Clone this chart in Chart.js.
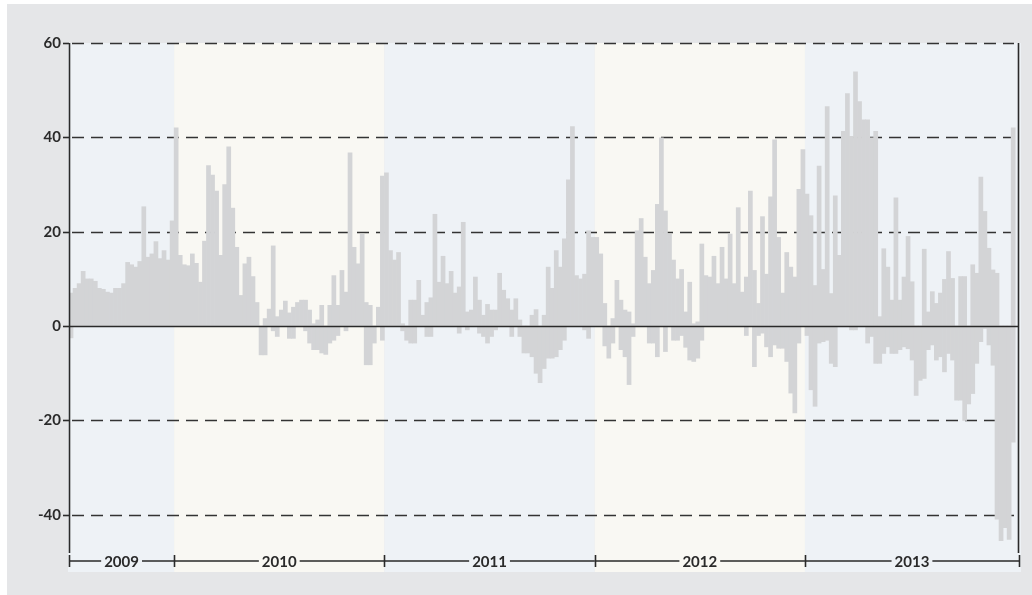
<!DOCTYPE html>
<html>
<head>
<meta charset="utf-8">
<script src="https://cdn.jsdelivr.net/npm/chart.js@4/dist/chart.umd.min.js"></script>
<style>
  html, body { margin: 0; padding: 0; background: #fff; }
  canvas { display: block; }
</style>
</head>
<body>
<canvas id="myChart" width="1032" height="595"></canvas>
<script>
// weekly values, positive and negative parts
const years = [2009, 2010, 2011, 2012, 2013];
const yTicks = [60, 40, 20, 0, -20, -40];

const up2009 = [7, 8, 9, 11.6, 10, 10, 9.5, 8, 7.8, 7.2, 7, 8, 8, 9, 13.5, 13, 12.5, 13.7, 25.3, 14.6, 15.3, 17.9, 14.3, 16, 14, 22.3];
const down2009 = [-2.5, 0, 0, 0, 0, 0, 0, 0, 0, 0, 0, 0, 0, 0, 0, 0, 0, 0, 0, 0, 0, 0, 0, 0, 0, 0];

const up2010 = [42, 15, 13, 12.8, 15.3, 13.3, 9.3, 18, 34, 32, 28.6, 15, 30, 38, 25, 16.7, 6.5, 13.2, 14.6, 10.5,
  5, 0, 1.6, 3.6, 17, 2, 3.4, 5.3, 2.8, 4, 5, 5.5, 5.5, 3.4, 0.5, 1.3, 4.4, 0, 4.4, 10.7,
  4.4, 11.8, 7.2, 36.7, 16.7, 13.2, 19.5, 5, 4.4, 0, 4, 31.8];
const down2010 = [0, 0, 0, 0, 0, 0, 0, 0, 0, 0, 0, 0, 0, 0, 0, 0, 0, 0, 0, 0,
  0, -6.1, -6.1, 0, -1, -2.2, 0, 0, -2.6, -2.6, 0, 0, -1, -3.6, -5, -5, -5.7, -6, -3.6, -3,
  -2, 0, -1, 0, 0, 0, 0, -8.2, -8.2, -3.6, 0, -3];

const up2011 = [32.5, 16, 14, 15.6, 0.5, 0, 5.5, 5.5, 9.7, 2.3, 5, 6, 23.7, 9.3, 14.8, 9, 11.6, 7, 8.3, 22,
  3, 3.4, 10.4, 5.5, 2.3, 4.6, 3.4, 3.4, 11.2, 7.6, 5.8, 3.4, 5.8, 1.3, 0, 0, 2.3, 3.5, 0, 2.3,
  12.5, 8, 16, 12.5, 18.5, 31, 42.3, 10.7, 10, 11, 20.2, 18.8];
const down2011 = [0, 0, 0, 0, -1, -3, -3.6, -3.6, 0, 0, -2.2, -2.2, 0, 0, 0, 0, 0, 0, -1.5, 0,
  -0.8, 0, 0, -1.5, -2.2, -3.6, -2.2, -0.8, 0, 0, 0, -2.2, 0, -2.2, -5.7, -5.7, -6.5, -10, -12, -9,
  -6.8, -6.8, -6.5, -5, -3, 0, 0, 0, 0, -0.8, -2.6, 0];

const up2012 = [18.8, 15.3, 4.8, 0, 1.6, 9.7, 5.5, 3.4, 3, 0.5, 20.2, 22.8, 14.6, 9, 11.8, 25.8, 39.9, 24.4, 19.5, 14,
  10, 12, 3, 9.3, 0.5, 0.9, 17.4, 10.7, 10.4, 14.8, 9, 16.7, 10, 19.5, 9, 25.1, 7.2, 10.4, 28.6, 11.8,
  4.8, 23.2, 11, 27.4, 39.5, 18.8, 7, 15.6, 12.5, 10.4, 29, 37.4];
const down2012 = [0, 0, -4.2, -6.8, -3.6, 0, -5, -6.5, -12.4, -2.2, 0, 0, 0, -3.6, -3.6, -6.5, 0, -5.4, 0, -3,
  -3, -2, -4.5, -7.2, -7.5, -6.8, -3, 0, 0, 0, 0, 0, 0, 0, 0, 0, 0, -2, 0, -8.6,
  -2, -1.5, -4.4, -6.5, -4, -4.7, -4.7, -7.5, -14.2, -18.4, -3.6, 0];

const up2013 = [28, 23.4, 8.6, 33.9, 12, 46.5, 6.9, 27.6, 15, 41.3, 49.3, 40.2, 53.9, 47.6, 43.7, 43.7, 39.9, 41.3, 2, 16.4,
  12.5, 5.5, 27.2, 5.5, 10.4, 19, 9.4, 0, 0, 16.3, 3, 7.3, 4.8, 7, 9.9, 15.8, 10.1, 0, 10.5, 10.5,
  0, 13, 11.2, 31.6, 24.3, 16.5, 11.9, 11.2, 0, 0, 0, 42];
const down2013 = [-2, -13.5, -17, -3.6, -3.3, -3, -7.9, -8.6, 0, 0, 0, -0.8, -0.8, 0, 0, -3.6, -2.2, -7.9, -7.9, -5.8,
  -4.4, -5.8, -5.8, -5, -4.4, -4.8, -7.2, -14.7, -11.5, -11.1, -5, -4, -7.2, -6.5, -9.7, -5.8, -7.2, -15.7, -15.7, -20,
  -16.5, -14.3, -7.9, -3.3, -0.5, -4, -8.3, -40.9, -45.5, -42.7, -45.2, -24.6];

const upByYear = [up2009, up2010, up2011, up2012, up2013];
const downByYear = [down2009, down2010, down2011, down2012, down2013];

// turn the week lists into {x, y} points, x in fractional years
function toPoints(lists) {
  const pts = [];
  lists.forEach((arr, yi) => {
    const offset = 52 - arr.length;
    arr.forEach((v, k) => {
      pts.push({ x: years[yi] + (offset + k + 0.5) / 52, y: v });
    });
  });
  return pts;
}

const barColor = "#d3d4d6";
const bandColors = ["#eef2f6", "#f9f8f3"];
const inkColor = "#2a2a2a";
const labelFont = "bold 15px Lato";

const decor = {
  id: "decor",
  beforeDraw(chart) {
    const { ctx, chartArea: a, scales } = chart;
    const x = scales.x, y = scales.y;
    ctx.save();
    ctx.fillStyle = "#fff";
    ctx.fillRect(0, 0, chart.width, chart.height);
    ctx.fillStyle = "#e5e6e8";
    ctx.fillRect(7, 4, chart.width - 7, chart.height - 4);

    // year bands
    const edges = [x.min].concat(years.slice(1), [x.max]);
    for (let i = 0; i < years.length; i++) {
      const l = i === 0 ? a.left - 1 : x.getPixelForValue(edges[i]);
      const r = i === years.length - 1 ? a.right + 2 : x.getPixelForValue(edges[i + 1]);
      ctx.fillStyle = bandColors[i % 2];
      ctx.fillRect(l, a.top, r - l, a.bottom + 10 - a.top);
    }

    // dashed grid
    ctx.strokeStyle = "#333";
    ctx.lineWidth = 1.6;
    ctx.setLineDash([12, 7]);
    yTicks.forEach((t) => {
      if (t === 0) return;
      const py = Math.round(y.getPixelForValue(t)) + 0.5;
      ctx.beginPath();
      ctx.moveTo(a.left + 3, py);
      ctx.lineTo(a.right - 5, py);
      ctx.stroke();
    });
    ctx.restore();
  },
  afterDatasetsDraw(chart) {
    const { ctx, chartArea: a, scales } = chart;
    const x = scales.x, y = scales.y;
    ctx.save();
    ctx.strokeStyle = inkColor;
    ctx.fillStyle = inkColor;
    ctx.lineWidth = 1.6;

    // zero line
    const y0 = Math.round(y.getPixelForValue(0)) + 0.5;
    ctx.beginPath();
    ctx.moveTo(a.left, y0);
    ctx.lineTo(a.right, y0);
    ctx.stroke();

    // left and right axis lines
    const axisEnd = a.bottom - 9;
    ctx.beginPath();
    ctx.moveTo(a.left + 0.5, a.top);
    ctx.lineTo(a.left + 0.5, axisEnd);
    ctx.moveTo(a.right - 0.5, a.top);
    ctx.lineTo(a.right - 0.5, axisEnd);
    ctx.stroke();

    // y ticks and labels
    ctx.font = labelFont;
    ctx.textAlign = "right";
    ctx.textBaseline = "middle";
    yTicks.forEach((t) => {
      const py = Math.round(y.getPixelForValue(t)) + 0.5;
      ctx.beginPath();
      ctx.moveTo(a.left - 6, py);
      ctx.lineTo(a.left, py);
      ctx.stroke();
      ctx.fillText(String(t), a.left - 8, py);
    });

    // year axis
    const ya = a.bottom - 1;
    const edges = [x.min].concat(years.slice(1), [x.max]);
    ctx.textAlign = "center";
    for (let i = 0; i < years.length; i++) {
      const l = x.getPixelForValue(edges[i]);
      const r = x.getPixelForValue(edges[i + 1]);
      const mid = (l + r) / 2;
      const label = String(years[i]);
      const w = ctx.measureText(label).width;
      ctx.beginPath();
      ctx.moveTo(l, ya);
      ctx.lineTo(mid - w / 2 - 3, ya);
      ctx.moveTo(mid + w / 2 + 3, ya);
      ctx.lineTo(r, ya);
      ctx.stroke();
      ctx.fillText(label, mid, ya + 1);
    }
    edges.forEach((e) => {
      const px = Math.round(x.getPixelForValue(e)) + 0.5;
      ctx.beginPath();
      ctx.moveTo(px, ya - 6);
      ctx.lineTo(px, ya + 6);
      ctx.stroke();
    });
    ctx.restore();
  },
};

const data = {
  datasets: [
    {
      data: toPoints(upByYear),
      backgroundColor: barColor,
      borderWidth: 0,
      barPercentage: 1,
      categoryPercentage: 1,
      grouped: false,
    },
    {
      data: toPoints(downByYear),
      backgroundColor: barColor,
      borderWidth: 0,
      barPercentage: 1,
      categoryPercentage: 1,
      grouped: false,
    },
  ],
};

const config = {
  type: "bar",
  data: data,
  options: {
    responsive: false,
    animation: false,
    devicePixelRatio: 1,
    layout: { padding: { left: 69, top: 43, right: 13, bottom: 33 } },
    scales: {
      x: { type: "linear", min: 2009.5, max: 2014.018, offset: false, display: false },
      y: { min: -50, max: 60, display: false },
    },
    plugins: {
      legend: { display: false },
      tooltip: { enabled: false },
    },
  },
  plugins: [decor],
};

const myChart = new Chart(document.getElementById("myChart"), config);
</script>
</body>
</html>
